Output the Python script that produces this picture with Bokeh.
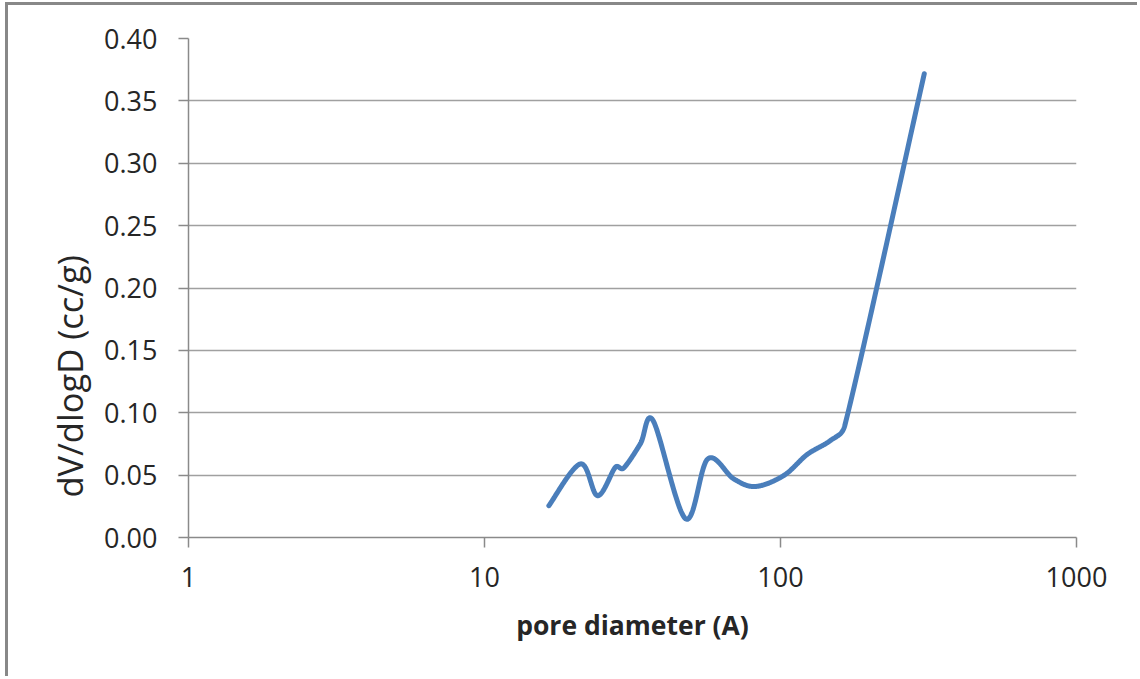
import numpy as np
from bokeh.plotting import figure
from bokeh.models import Range1d, FixedTicker, PrintfTickFormatter, Title
from bokeh.embed import file_html
from bokeh.resources import INLINE

# ---- data ----
pore_diameter = [16.5, 21.1, 24.1, 27.7, 29.5, 33.6, 37.1, 47.8, 56.8, 69.5,
                 82.4, 102.6, 123.0, 147.0, 165.0, 306.0]
dv_dlogd = [0.0255, 0.0590, 0.0335, 0.0564, 0.0556, 0.0750, 0.0938, 0.0150,
            0.0630, 0.0470, 0.0409, 0.0497, 0.0665, 0.0775, 0.0900, 0.3717]
x_ticks = [1, 10, 100, 1000]
y_ticks = [0.00, 0.05, 0.10, 0.15, 0.20, 0.25, 0.30, 0.35, 0.40]
x_title = "pore diameter (A)"
y_title = "dV/dlogD (cc/g)"

# ---- layout ----
W, H = 1132, 674
ML, MT = 180, 33
FW, FH = 888, 499
MR, MB = W - ML - FW, H - MT - FH
X0, X1, Y0, Y1 = 1, 1000, 0.0, 0.40


def smooth(xs, ys, n=40, clamp=0.5):
    """Excel-like smoothed line: Catmull-Rom Bezier segments in screen space,
    with control arms limited relative to the segment length."""
    sxp = np.log10(np.asarray(xs, float)) * FW / (np.log10(X1) - np.log10(X0))
    syp = np.asarray(ys, float) * FH / (Y1 - Y0)
    P = np.column_stack([sxp, syp])
    m = len(P)
    T = []
    for i in range(m):
        a = P[i - 1] if i > 0 else P[i]
        b = P[i + 1] if i < m - 1 else P[i]
        T.append((b - a) / 6.0)
    out = []
    for i in range(m - 1):
        p1, p2 = P[i], P[i + 1]
        L = np.linalg.norm(p2 - p1)
        t1, t2 = T[i].copy(), T[i + 1].copy()
        for tv in (t1, t2):
            nrm = np.linalg.norm(tv)
            if nrm > clamp * L:
                tv *= clamp * L / nrm
        c1 = p1 + t1
        c2 = p2 - t2
        t = np.linspace(0, 1, n, endpoint=(i == m - 2))[:, None]
        seg = ((1 - t) ** 3) * p1 + 3 * ((1 - t) ** 2) * t * c1 + 3 * (1 - t) * t ** 2 * c2 + t ** 3 * p2
        out.append(seg)
    out = np.vstack(out)
    lx = out[:, 0] * (np.log10(X1) - np.log10(X0)) / FW
    yy = out[:, 1] * (Y1 - Y0) / FH
    return 10 ** lx, yy


sx, sy = smooth(pore_diameter, dv_dlogd)

TEXT = "#262626"
GRID = "#A0A0A0"
AXIS = "#8A8A8A"
FONT = "Open Sans"

p = figure(width=W, height=H, x_axis_type="log",
           x_range=Range1d(X0, X1), y_range=Range1d(Y0, Y1),
           output_backend="svg", toolbar_location=None,
           min_border_left=ML, min_border_right=MR,
           min_border_top=MT, min_border_bottom=MB)
p.styles = {"border-left": "3px solid #888888", "border-top": "3px solid #888888",
            "margin-left": "5px", "margin-top": "2px"}
p.outline_line_color = None
p.background_fill_color = "white"
p.border_fill_color = "white"

p.line(sx, sy, line_color="#4A7EBB", line_width=5, line_cap="round", line_join="round")

# axes
p.xaxis.ticker = FixedTicker(ticks=x_ticks, minor_ticks=[])
p.xaxis.formatter = PrintfTickFormatter(format="%d")
p.yaxis.ticker = FixedTicker(ticks=y_ticks, minor_ticks=[])
p.yaxis.formatter = PrintfTickFormatter(format="%.2f")

for ax in (p.xaxis, p.yaxis):
    ax.axis_line_color = AXIS
    ax.axis_line_width = 1.5
    ax.major_tick_line_color = AXIS
    ax.major_tick_line_width = 1.5
    ax.major_tick_out = 10
    ax.major_tick_in = 0
    ax.minor_tick_line_color = None
    ax.major_label_text_font = FONT
    ax.major_label_text_font_size = "27px"
    ax.major_label_text_color = TEXT

p.yaxis.major_label_standoff = 21
p.xaxis.major_label_standoff = 19

p.xaxis.axis_label = x_title
p.xaxis.axis_label_text_font = FONT
p.xaxis.axis_label_text_font_size = "26.5px"
p.xaxis.axis_label_text_font_style = "bold"
p.xaxis.axis_label_text_color = TEXT
p.xaxis.axis_label_standoff = 17

p.xgrid.grid_line_color = None
p.ygrid.grid_line_color = GRID
p.ygrid.grid_line_width = 1.5

# y-axis title, placed lower than the frame centre as in the reference
p.add_layout(Title(text=y_title, align="left", offset=40, standoff=18,
                   text_font=FONT, text_font_size="34.5px", text_font_style="normal",
                   text_color=TEXT), "left")

open("out.html", "w").write(file_html(p, INLINE))
